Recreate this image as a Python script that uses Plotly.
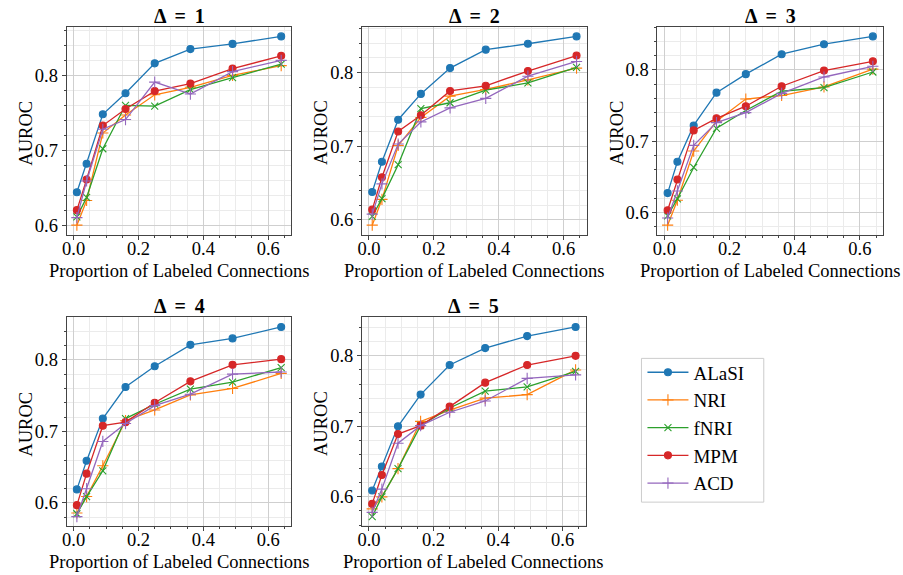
import plotly.graph_objects as go

x_vals = [0.01, 0.04, 0.09, 0.16, 0.25, 0.36, 0.49, 0.64]
methods = ["ALaSI", "NRI", "fNRI", "MPM", "ACD"]
deltas = [1, 2, 3, 4, 5]

alasi = [
    [0.644, 0.682, 0.748, 0.776, 0.816, 0.835, 0.842, 0.852],
    [0.638, 0.679, 0.736, 0.771, 0.806, 0.831, 0.839, 0.849],
    [0.627, 0.671, 0.722, 0.768, 0.794, 0.822, 0.836, 0.847],
    [0.619, 0.659, 0.718, 0.762, 0.791, 0.821, 0.830, 0.846],
    [0.609, 0.643, 0.700, 0.745, 0.787, 0.811, 0.828, 0.841],
]
nri = [
    [0.600, 0.633, 0.723, 0.747, 0.774, 0.784, 0.800, 0.813],
    [0.593, 0.628, 0.701, 0.739, 0.768, 0.777, 0.790, 0.806],
    [0.582, 0.617, 0.686, 0.728, 0.759, 0.764, 0.776, 0.801],
    [0.586, 0.609, 0.652, 0.715, 0.730, 0.751, 0.760, 0.781],
    [0.583, 0.600, 0.640, 0.707, 0.723, 0.740, 0.745, 0.780],
]
fnri = [
    [0.611, 0.637, 0.702, 0.760, 0.759, 0.781, 0.797, 0.815],
    [0.605, 0.629, 0.675, 0.751, 0.759, 0.776, 0.786, 0.807],
    [0.595, 0.619, 0.663, 0.718, 0.743, 0.770, 0.775, 0.797],
    [0.585, 0.609, 0.645, 0.718, 0.738, 0.759, 0.769, 0.789],
    [0.572, 0.600, 0.640, 0.701, 0.726, 0.750, 0.756, 0.778],
]
mpm = [
    [0.620, 0.661, 0.733, 0.755, 0.779, 0.789, 0.809, 0.826],
    [0.614, 0.658, 0.720, 0.742, 0.775, 0.782, 0.802, 0.823],
    [0.603, 0.646, 0.715, 0.732, 0.749, 0.777, 0.799, 0.812],
    [0.597, 0.641, 0.708, 0.713, 0.740, 0.770, 0.793, 0.801],
    [0.590, 0.631, 0.689, 0.701, 0.728, 0.762, 0.787, 0.800],
]
acd = [
    [0.610, 0.659, 0.728, 0.741, 0.791, 0.775, 0.805, 0.820],
    [0.608, 0.649, 0.703, 0.733, 0.752, 0.765, 0.795, 0.815],
    [0.592, 0.630, 0.694, 0.726, 0.740, 0.767, 0.790, 0.805],
    [0.581, 0.620, 0.686, 0.711, 0.736, 0.752, 0.780, 0.783],
    [0.578, 0.611, 0.676, 0.701, 0.720, 0.736, 0.768, 0.773],
]
series = [alasi, nri, fnri, mpm, acd]

colors = ["#1f77b4", "#ff7f0e", "#2ca02c", "#d62728", "#9467bd"]
symbols = ["circle", "cross-thin", "x-thin", "circle", "cross-thin"]
msizes = [7, 8, 7, 7, 8]

W, H = 903, 575
FONT = "Liberation Serif"

# plot-area pixel boxes (left, right, top, bottom)
boxes = [
    (62, 288, 27, 235),
    (359, 585, 27, 235),
    (656, 883, 27, 235),
    (62, 288, 318, 527),
    (359, 584, 318, 527),
]

fig = go.Figure()
annotations = []

for i, d in enumerate(deltas):
    xa = "x" if i == 0 else f"x{i+1}"
    ya = "y" if i == 0 else f"y{i+1}"
    for k, m in enumerate(methods):
        fig.add_trace(go.Scatter(
            x=x_vals, y=series[k][i], mode="lines+markers", name=m,
            xaxis=xa, yaxis=ya, showlegend=(i == 0), legendgroup=m,
            line=dict(color=colors[k], width=1.3),
            marker=dict(symbol=symbols[k], size=msizes[k], color=colors[k],
                        line=dict(color=colors[k], width=1.1)),
        ))
    allv = [v for s in series for v in s[i]]
    lo, hi = min(allv), max(allv)
    pad = (hi - lo) * 0.05
    l, r, t, b = boxes[i]
    axcommon = dict(
        showline=True, linecolor="#444", linewidth=1, mirror=True,
        ticks="outside", ticklen=4, tickwidth=1, tickcolor="#444",
        showgrid=True, gridcolor="#cfcfcf", gridwidth=1, zeroline=False,
        tickfont=dict(family=FONT, size=18.5, color="#000"),
        tickformat=".1f",
    )
    fig.layout[f"xaxis{'' if i == 0 else i+1}"] = dict(
        axcommon, domain=[l / W, r / W], anchor=ya,
        range=[-0.0215, 0.6715], tick0=0, dtick=0.2, ticklabelstandoff=-7,
        minor=dict(dtick=0.05, tick0=0, showgrid=True, gridcolor="#ebebeb",
                   ticks="outside", ticklen=2, tickcolor="#444"),
    )
    fig.layout[f"yaxis{'' if i == 0 else i+1}"] = dict(
        axcommon, domain=[1 - b / H, 1 - t / H], anchor=xa,
        range=[lo - pad, hi + pad], tick0=0, dtick=0.1,
        minor=dict(dtick=0.02, tick0=0, showgrid=True, gridcolor="#ebebeb",
                   ticks="outside", ticklen=2, tickcolor="#444"),
    )
    annotations.append(dict(
        text=f"<b>Δ \u2009= \u2009{d}</b>", xref="paper", yref="paper",
        x=(l + r) / 2 / W, y=1 - (t - 11) / H, xanchor="center", yanchor="middle",
        showarrow=False, font=dict(family=FONT, size=20, color="#000"),
    ))
    annotations.append(dict(
        text="Proportion of Labeled Connections", xref="paper", yref="paper",
        x=(l + r) / 2 / W, y=1 - (b + 36) / H, xanchor="center", yanchor="middle",
        showarrow=False, font=dict(family=FONT, size=18.5, color="#000"),
    ))
    annotations.append(dict(
        text="AUROC", xref="paper", yref="paper", textangle=-90,
        x=(l - 41) / W, y=1 - ((t + b) / 2 + 2) / H, xanchor="center", yanchor="middle",
        showarrow=False, font=dict(family=FONT, size=18.5, color="#000"),
    ))

fig.update_layout(
    width=W, height=H, margin=dict(l=0, r=0, t=0, b=0),
    paper_bgcolor="white", plot_bgcolor="white",
    annotations=annotations,
    font=dict(family=FONT, color="#000"),
    shapes=[dict(type="rect", xref="paper", yref="paper",
                 x0=640 / W, x1=763 / W, y0=1 - 503 / H, y1=1 - 359 / H,
                 line=dict(color="#cccccc", width=1), fillcolor="white", layer="below")],
    legend=dict(
        x=641 / W, y=1 - 354 / H, xanchor="left", yanchor="top",
        borderwidth=0, bgcolor="rgba(0,0,0,0)", itemwidth=41,
        font=dict(family=FONT, size=19, color="#000"),
        tracegroupgap=0,
    ),
)

fig.write_html("out.html", config={"displayModeBar": False},
               post_script="document.body.style.margin='0px';document.body.style.overflow='hidden';")
